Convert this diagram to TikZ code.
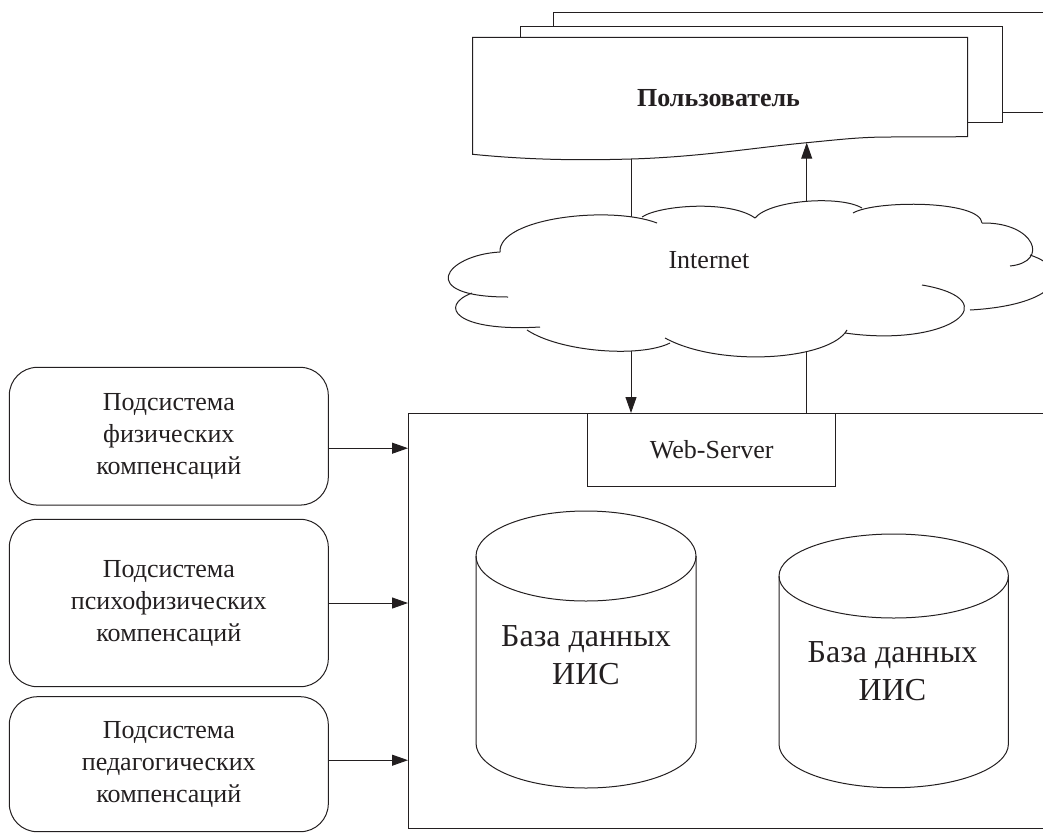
\documentclass[tikz,border=0pt]{standalone}
\usepackage{fontspec}
\setmainfont{Liberation Serif}
\usetikzlibrary{arrows.meta}
\definecolor{ink}{RGB}{35,31,32}
\tikzset{
  arr/.style={-{Triangle[length=16pt,width=11pt]}},
  subbox/.style={draw, rounded corners=28pt, minimum width=319pt, outer sep=0pt, align=center, font=\fontsize{26}{32}\selectfont},
  dbtext/.style={align=center, font=\fontsize{32}{38}\selectfont}
}
\begin{document}
\begin{tikzpicture}[x=1pt, y=-1pt, line width=1pt, ink]
\useasboundingbox (0,0) rectangle (1043,833);
\clip (0,0) rectangle (1043,833);

% IIS block
\node[draw, minimum width=672pt, minimum height=415pt, outer sep=0pt] (iis) at (744,620.5) {};
\node[draw, minimum width=248pt, minimum height=73pt, outer sep=0pt, font=\fontsize{26}{32}\selectfont] (web) at (711.7,449.5) {Web-Server};

% Subsystems
\node[subbox, minimum height=137.7pt] (sub1) at (168.8,436.2) {Подсистема\\физических\\компенсаций};
\node[subbox, minimum height=167.4pt] (sub2) at (168.8,603) {Подсистема\\психофизических\\компенсаций};
\node[subbox, minimum height=135pt] (sub3) at (168.8,764.2) {Подсистема\\педагогических\\компенсаций};

% Arrows into IIS
\coordinate (in1) at ([yshift=-12pt]sub1.east);
\coordinate (in2) at (sub2.east);
\coordinate (in3) at ([yshift=4pt]sub3.east);
\draw[arr] (in1) -- (in1 -| iis.west);
\draw[arr] (in2) -- (in2 -| iis.west);
\draw[arr] (in3) -- (in3 -| iis.west);

% User documents
\draw[fill=white] (553,112) -- (553,12) -- (1080,12) -- (1080,112) -- cycle;
\draw[fill=white] (520,26.7) rectangle (1002.7,122);
\draw[fill=white] (472.7,37.3) -- (967.7,37.3) -- (967.7,136.7) -- (890,137)
  .. controls (860,137) and (840,139.5) .. (806.7,142.7)
  .. controls (760,147) and (700,157) .. (631,159)
  .. controls (580,160.5) and (530,160) .. (472.7,154.3) -- cycle;
\node[font=\fontsize{26}{32}\selectfont\bfseries] (user) at (718.5,98) {Пользователь};

% Links through Internet
\coordinate (userL) at (631,159);
\coordinate (userR) at (806.7,142.7);
\draw[arr] (userL) -- (userL |- web.north);
\draw[arr] (userR |- web.north) -- (userR);

% Cloud
\fill[white] (500,252) .. controls (445,255) and (415,297) .. (508,297)
  -- (472,293) .. controls (438,306) and (455,332) .. (540,327)
  -- (527,330) .. controls (560,352) and (640,358) .. (670,343)
  -- (665,338) .. controls (720,368) and (830,360) .. (847,330)
  -- (845,333) .. controls (950,348) and (1010,300) .. (922,285)
  -- (970,310) .. controls (1060,305) and (1075,270) .. (1030,255)
  -- (1010,266) .. controls (1050,262) and (1035,222) .. (982,223)
  .. controls (980,200) and (875,200) .. (853,213)
  -- (862,208) .. controls (840,195) and (770,200) .. (755,218)
  .. controls (730,200) and (660,205) .. (642,217)
  -- (657,223) .. controls (610,205) and (498,218) .. (500,252) -- cycle;
\draw (500,252) .. controls (445,255) and (415,297) .. (508,297);
\draw (472,293) .. controls (438,306) and (455,332) .. (540,327);
\draw (527,330) .. controls (560,352) and (640,358) .. (670,343);
\draw (665,338) .. controls (720,368) and (830,360) .. (847,330);
\draw (845,333) .. controls (950,348) and (1010,300) .. (922,285);
\draw (970,310) .. controls (1060,305) and (1075,270) .. (1030,255);
\draw (1010,266) .. controls (1050,262) and (1035,222) .. (982,223);
\draw (982,223) .. controls (980,200) and (875,200) .. (853,213);
\draw (862,208) .. controls (840,195) and (770,200) .. (755,218);
\draw (755,218) .. controls (730,200) and (660,205) .. (642,217);
\draw (657,223) .. controls (610,205) and (498,218) .. (500,252);
\node[font=\fontsize{26}{32}\selectfont] (net) at (709,260) {Internet};

% Databases
\draw (476,556) -- (476,743) arc[start angle=180, end angle=360, x radius=110pt, y radius=45pt] -- (696,556);
\draw (586,556) ellipse [x radius=110pt, y radius=45pt];
\node[dbtext] (db1) at (586,655) {База данных\\ИИС};

\draw (779,576) -- (779,744) arc[start angle=180, end angle=360, x radius=114.7pt, y radius=43.7pt] -- (1008.4,576);
\draw (893.7,576) ellipse [x radius=114.7pt, y radius=42pt];
\node[dbtext] (db2) at (892.5,671) {База данных\\ИИС};
\end{tikzpicture}
\end{document}
